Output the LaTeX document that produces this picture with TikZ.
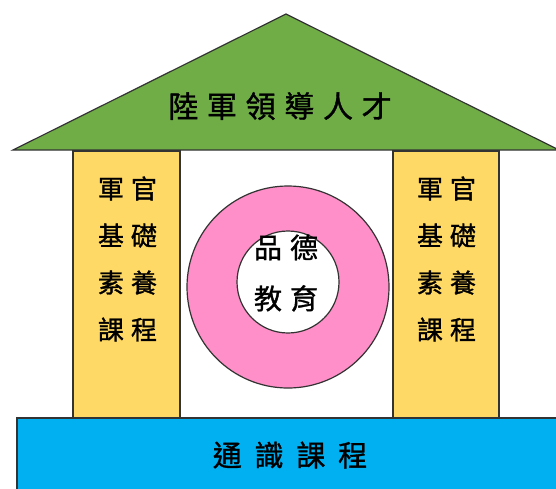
\documentclass[tikz,border=0pt]{standalone}
\usepackage{fontspec}
\newfontfamily\cjk[FakeBold=1.2]{Noto Sans CJK TC}
\definecolor{roofgreen}{HTML}{70AD47}
\definecolor{pillaryellow}{HTML}{FFD966}
\definecolor{ringpink}{HTML}{FF8FC8}
\definecolor{baseblue}{HTML}{00B0F0}
\definecolor{edge}{HTML}{333333}
\begin{document}
\begin{tikzpicture}[x=1pt,y=-1pt,
  part/.style={draw=edge,line width=1.2pt},
  rooftext/.style={font=\cjk\fontsize{30}{30}\selectfont\addfontfeature{LetterSpace=29},inner sep=0pt},
  basetext/.style={font=\cjk\fontsize{29}{29}\selectfont\addfontfeature{LetterSpace=44},inner sep=0pt},
  coltext/.style={font=\cjk\fontsize{26}{47}\selectfont\addfontfeature{LetterSpace=27},align=center,inner sep=0pt},
  ringtext/.style={font=\cjk\fontsize{28}{51}\selectfont\addfontfeature{LetterSpace=29},align=center,inner sep=0pt}]
\useasboundingbox (0,0) rectangle (556,488);
\clip (0,0) rectangle (556,488);
% roof
\draw[part,fill=roofgreen,line join=miter] (13,150) -- (286,14) -- (559,150) -- cycle;
\node[rooftext] (roof) at (280,106) {陸軍領導人才};
% pillars
\draw[part,fill=pillaryellow] (73,151) rectangle (180,418);
\draw[part,fill=pillaryellow] (393,151) rectangle (499,418);
\node[coltext] (lefttext) at (127.5,259) {軍官\\基礎\\素養\\課程};
\node[coltext] (righttext) at (446.5,259) {軍官\\基礎\\素養\\課程};
% ring
\draw[part,fill=ringpink] (288,287) circle (101);
\draw[part,fill=white] (288,282) circle (51);
\node[ringtext] (ringlabel) at (286,273) {品德\\教育};
% base
\draw[part,fill=baseblue] (17,418) rectangle (570,500);
\node[basetext] (basetext) at (290,455) {通識課程};
\end{tikzpicture}
\end{document}
